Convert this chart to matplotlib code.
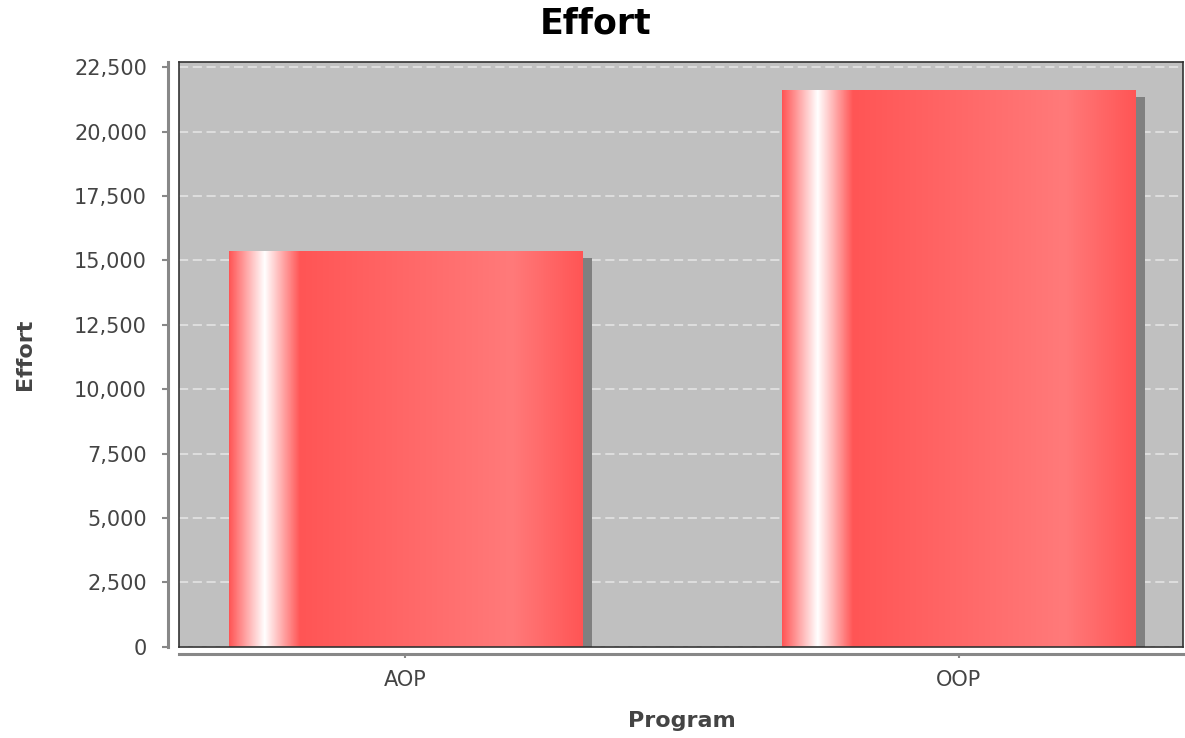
import numpy as np
import matplotlib
matplotlib.use("Agg")
import matplotlib.pyplot as plt
import matplotlib.transforms as mtransforms
from matplotlib.ticker import FuncFormatter, MultipleLocator

# Data
programs = ["AOP", "OOP"]
effort = [15370, 21600]

y_max = 22700
y_step = 2500

bar_red = np.array([255, 85, 85]) / 255.0
bar_light = np.array([255, 122, 122]) / 255.0
white = np.array([1.0, 1.0, 1.0])
plot_bg = "#c0c0c0"
text_grey = "#444444"

plt.rcParams['font.family'] = ['DejaVu Sans']

fig = plt.figure(figsize=(11.85, 7.38), dpi=100)
pos = [179 / 1185, (738 - 646.7) / 738, 1004 / 1185, 584.7 / 738]

# plot area with its outline
ax = fig.add_axes(pos)
ax.set_facecolor(plot_bg)
for s in ax.spines.values():
    s.set_color("#333333")
    s.set_linewidth(1.2)
ax.tick_params(left=False, bottom=False, labelleft=False, labelbottom=False)

x = np.arange(len(programs))
width = 0.638

# dashed horizontal gridlines
ax.yaxis.set_major_locator(MultipleLocator(y_step))
ax.grid(axis="y", color="#e6e6e6", linestyle=(0, (6, 3)), linewidth=1.1, zorder=0.5)
ax.set_axisbelow(True)

# drop shadows, shifted right and down a few pixels
shadow_tr = ax.transData + mtransforms.ScaledTranslation(10 / 100, -7 / 100, fig.dpi_scale_trans)
ax.bar(x, effort, width=width, color="#808080", transform=shadow_tr, zorder=1, linewidth=0)

bars = ax.bar(x, effort, width=width, color=bar_red, zorder=2, linewidth=0)

# horizontal gradient fill for each bar
stops = [0.0, 0.10, 0.20, 0.80, 1.0]
cols = [bar_red, white, bar_red, bar_light, bar_red]
t = np.linspace(0, 1, 400)
grad = np.stack([np.interp(t, stops, [c[i] for c in cols]) for i in range(3)], axis=-1)
grad = grad[np.newaxis, :, :]
for b in bars:
    x0, w, h = b.get_x(), b.get_width(), b.get_height()
    im = ax.imshow(grad, extent=[x0, x0 + w, 0, h], aspect="auto", zorder=2.1,
                   interpolation="bilinear")
    im.set_clip_path(b)

ax.set_xlim(-0.409, 1.405)
ax.set_ylim(0, y_max)

# axis lines offset from the plot area
ax2 = fig.add_axes(pos, sharex=ax, sharey=ax)
ax2.patch.set_visible(False)
ax2.spines["top"].set_visible(False)
ax2.spines["right"].set_visible(False)
ax2.spines["left"].set_position(("outward", 8))
ax2.spines["bottom"].set_position(("outward", 5))
for side in ["left", "bottom"]:
    ax2.spines[side].set_color("#888888")
    ax2.spines[side].set_linewidth(2.2)
ax2.set_xticks(x)
ax2.set_xticklabels(programs)
ax2.yaxis.set_major_locator(MultipleLocator(y_step))
ax2.yaxis.set_major_formatter(FuncFormatter(lambda v, p: f"{v:,.0f}"))
ax2.tick_params(axis="y", length=4, width=1.5, color="#888888", labelcolor=text_grey,
                labelsize=15, pad=11)
ax2.tick_params(axis="x", length=3, width=1.5, color="#888888", labelcolor=text_grey,
                labelsize=15, pad=9)

fig.text(0.503, 1 - 24 / 738, "Effort", ha="center", va="center", fontsize=25,
         fontweight="bold", color="black")
fig.text(25 / 1185, 1 - 354 / 738, "Effort", ha="center", va="center", rotation=90,
         fontsize=16, fontweight="bold", color=text_grey)
fig.text(682 / 1185, 1 - 721 / 738, "Program", ha="center", va="center",
         fontsize=16, fontweight="bold", color=text_grey)

fig.savefig("out.png", dpi=100)
